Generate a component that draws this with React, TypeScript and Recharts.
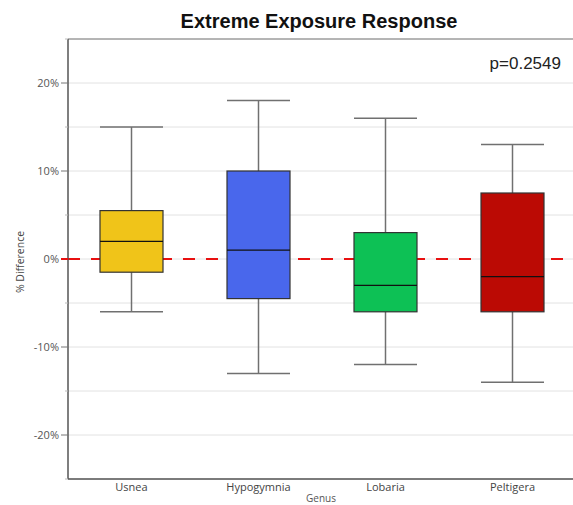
import React from 'react';
import { ComposedChart, Bar, XAxis, YAxis, CartesianGrid, ReferenceLine } from 'recharts';

const categories = ['Usnea', 'Hypogymnia', 'Lobaria', 'Peltigera'];
const minVals = [-6, -13, -12, -14];
const q1Vals = [-1.5, -4.5, -6, -6];
const medianVals = [2, 1, -3, -2];
const q3Vals = [5.5, 10, 3, 7.5];
const maxVals = [15, 18, 16, 13];
const boxColors = ['#F0C419', '#4967EC', '#0DC155', '#BB0A04'];
const yTicks = [-25, -20, -15, -10, -5, 0, 5, 10, 15, 20, 25];
const labeledTicks = [-20, -10, 0, 10, 20];
const title = 'Extreme Exposure Response';
const pText = 'p=0.2549';
const xTitle = 'Genus';
const yTitle = '% Difference';

const data = categories.map((name, i) => ({
  name,
  min: minVals[i],
  q1: q1Vals[i],
  median: medianVals[i],
  q3: q3Vals[i],
  max: maxVals[i],
  color: boxColors[i],
}));

const uiFont = '"Open Sans", "Noto Sans", sans-serif';
const arial = '"Liberation Sans", Arial, sans-serif';
const chartMargin = { top: 39, right: 0, left: 0, bottom: 0 };

const BoxShape = (props: any) => {
  const { x, y, width, height, payload } = props;
  const top = Math.min(y, y + height);
  const bottom = Math.max(y, y + height);
  const { min, max, q1, q3, median, color } = payload;
  const s = (v: number) => top + ((max - v) / (max - min)) * (bottom - top);
  const cx = x + width / 2;
  const wStroke = '#707070';
  return (
    <g>
      <line x1={cx} x2={cx} y1={s(max)} y2={s(q3)} stroke={wStroke} strokeWidth={1.5} />
      <line x1={cx} x2={cx} y1={s(q1)} y2={s(min)} stroke={wStroke} strokeWidth={1.5} />
      <line x1={x} x2={x + width} y1={s(max)} y2={s(max)} stroke={wStroke} strokeWidth={1.5} />
      <line x1={x} x2={x + width} y1={s(min)} y2={s(min)} stroke={wStroke} strokeWidth={1.5} />
      <rect x={x} y={s(q3)} width={width} height={s(q1) - s(q3)} fill={color} stroke="#333" strokeWidth={1.2} />
      <line x1={x} x2={x + width} y1={s(median)} y2={s(median)} stroke="#111" strokeWidth={1.2} />
    </g>
  );
};

const EmptyShape = () => <g />;

const YTick = (props: any) => {
  const { x, y, payload } = props;
  const v = payload.value;
  const major = labeledTicks.includes(v);
  if (v === 0) {
    return (
      <g>
        <line x1={x - 7} x2={x} y1={y} y2={y} stroke="#e81010" strokeWidth={2} />
        <text x={x - 9} y={y} dy={4} textAnchor="end" fontSize={11} fill="#555" fontFamily={uiFont}>{v + '%'}</text>
      </g>
    );
  }
  return (
    <g>
      <line x1={x - (major ? 7 : 3)} x2={x} y1={y} y2={y} stroke={major ? '#777' : '#bbb'} strokeWidth={1} />
      {major && (
        <text x={x - 9} y={y} dy={4} textAnchor="end" fontSize={11} fill="#555" fontFamily={uiFont}>{v + '%'}</text>
      )}
    </g>
  );
};

const rangeKey = (d: any) => [d.min, d.max];

export default function App() {
  return (
    <div style={{ position: 'absolute', left: 0, top: 0, width: 573, height: 505, overflow: 'hidden', background: '#fff' }}>
      {/* background layer: grid, axes, reference lines */}
      <div style={{ position: 'absolute', left: 0, top: 0 }}>
        <ComposedChart width={576} height={505} data={data} margin={chartMargin}>
          <CartesianGrid vertical={false} stroke="#e2e2e2" strokeWidth={1} />
          <XAxis
            dataKey="name"
            height={26}
            tickLine={false}
            tickSize={0}
            tickMargin={4}
            axisLine={{ stroke: '#555', strokeWidth: 1.5 }}
            tick={{ fontSize: 11, fill: '#444', fontFamily: uiFont }}
            interval={0}
          />
          <YAxis
            type="number"
            domain={[-25, 25]}
            ticks={yTicks}
            width={68}
            tickSize={0}
            tickMargin={0}
            tickLine={false}
            axisLine={{ stroke: '#555', strokeWidth: 1.5 }}
            tick={<YTick />}
            interval={0}
          />
          <Bar dataKey={rangeKey} barSize={63} shape={<EmptyShape />} isAnimationActive={false} />
          <ReferenceLine y={25} stroke="#a0a0a0" strokeWidth={1.5} />
          <ReferenceLine y={0} stroke="#e81010" strokeWidth={2} strokeDasharray="12 11" />
        </ComposedChart>
      </div>
      {/* foreground layer: box plots, drawn above the zero line */}
      <div style={{ position: 'absolute', left: 0, top: 0 }}>
        <ComposedChart width={576} height={505} data={data} margin={chartMargin}>
          <XAxis dataKey="name" height={26} tick={false} tickLine={false} axisLine={false} />
          <YAxis type="number" domain={[-25, 25]} ticks={yTicks} width={68} tick={false} tickLine={false} axisLine={false} />
          <Bar dataKey={rangeKey} barSize={63} shape={<BoxShape />} isAnimationActive={false} />
        </ComposedChart>
      </div>
      <svg width={573} height={505} style={{ position: 'absolute', left: 0, top: 0, pointerEvents: 'none' }}>
        <text x={319} y={27.5} textAnchor="middle" fontFamily={arial} fontWeight="bold" fontSize={20} fill="#111">{title}</text>
        <text x={561} y={68.5} textAnchor="end" fontFamily={arial} fontSize={17} fill="#222">{pText}</text>
        <text x={321} y={502} textAnchor="middle" fontFamily={uiFont} fontSize={10} fill="#555">{xTitle}</text>
        <text transform="translate(24,262) rotate(-90)" textAnchor="middle" fontFamily={uiFont} fontSize={10.5} fill="#444">{yTitle}</text>
      </svg>
    </div>
  );
}
